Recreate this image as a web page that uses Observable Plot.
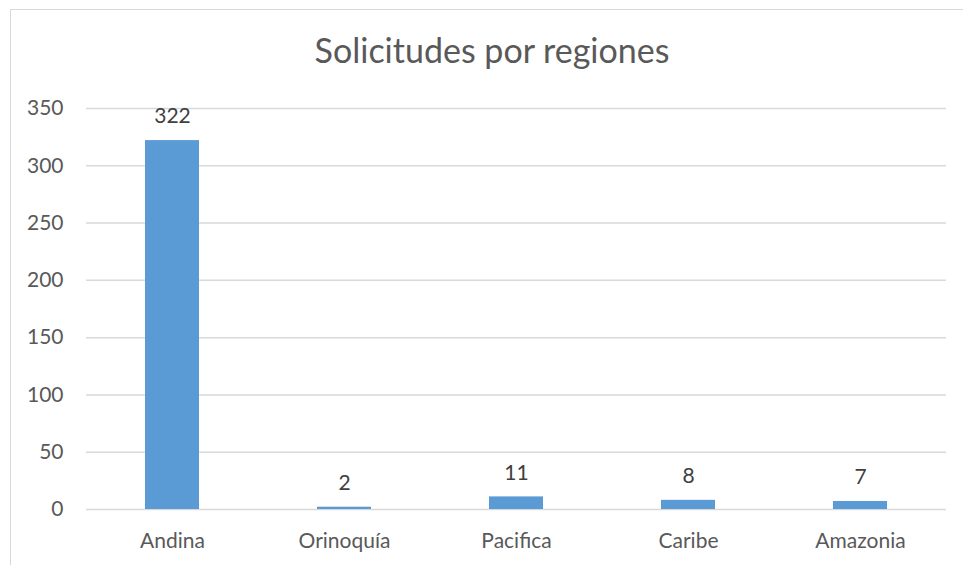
<!DOCTYPE html>
<html>
<head>
<meta charset="utf-8">
<script src="https://cdn.jsdelivr.net/npm/d3@7"></script>
<script src="https://cdn.jsdelivr.net/npm/@observablehq/plot@0.6"></script>
<style>
  html, body { margin: 0; padding: 0; background: #fff; }
  #wrap { position: relative; width: 963px; height: 565px; overflow: hidden; }
  #frame { position: absolute; left: 10px; top: 9px; width: 1000px; height: 600px; border: 1.5px solid #d9d9d9; box-sizing: border-box; pointer-events: none; }
  svg { position: absolute; left: 0; top: 0; }
</style>
</head>
<body>
<div id="wrap"><div id="frame"></div></div>
<script>
const title = "Solicitudes por regiones";
const regions = ["Andina", "Orinoquía", "Pacifica", "Caribe", "Amazonia"];
const solicitudes = [322, 2, 11, 8, 7];
const yTicks = [0, 50, 100, 150, 200, 250, 300, 350];

const data = regions.map((r, i) => ({region: r, value: solicitudes[i]}));
const font = "Lato, 'Open Sans', sans-serif";

const chart = Plot.plot({
  width: 963,
  height: 565,
  marginLeft: 86,
  marginRight: 17,
  marginTop: 108,
  marginBottom: 56,
  style: {fontFamily: font, fontSize: "21px", color: "#595959", background: "transparent"},
  x: {domain: regions, paddingInner: 0.686, paddingOuter: 0.343, label: null, tickSize: 0, tickPadding: 24},
  y: {domain: [0, 350], ticks: yTicks, label: null, tickSize: 0, tickPadding: 23},
  marks: [
    Plot.ruleY(yTicks, {stroke: "#d9d9d9", strokeWidth: 1.5}),
    Plot.barY(data, {x: "region", y: "value", fill: "#5b9bd5"}),
    Plot.text(data, {x: "region", y: "value", text: d => String(d.value), dy: -24, fill: "#404040", fontSize: 21}),
    Plot.text([title], {frameAnchor: "top", lineAnchor: "top", dx: -24.5, dy: -70, fill: "#595959", fontSize: 34})
  ]
});
document.getElementById("wrap").appendChild(chart);
</script>
</body>
</html>
